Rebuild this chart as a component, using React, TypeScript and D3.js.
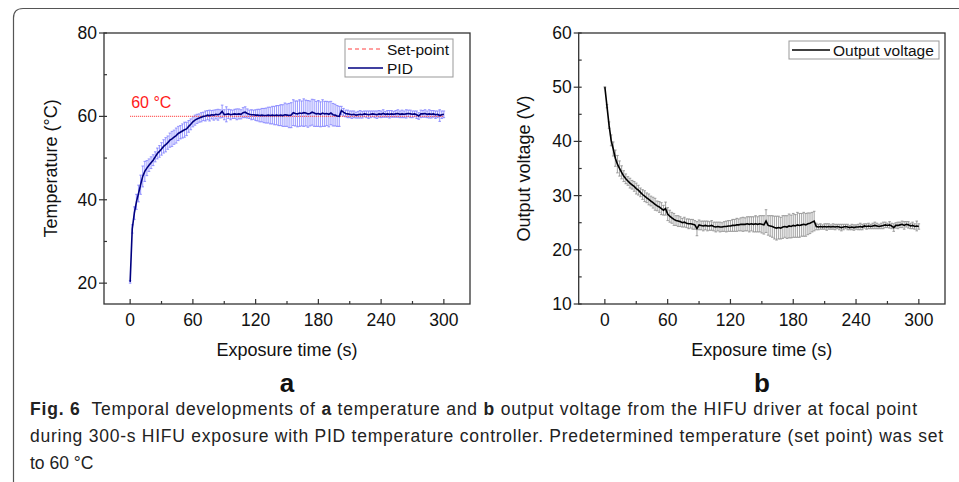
import React from "react";
import * as d3 from "d3";

// time step of 2 s, 0..300 s
const timeS = d3.range(0, 301, 2);

const tempMean = [
  20.3, 33.0, 36.8, 39.5, 41.5, 43.6, 45.6, 46.8, 47.6, 48.3,
  48.9, 49.5, 50.3, 51.1, 51.6, 52.2, 52.8, 53.2, 53.7, 54.3,
  54.6, 55.0, 55.4, 55.9, 56.2, 56.5, 56.8, 57.0, 57.6, 58.1,
  58.7, 59.1, 59.4, 59.6, 59.8, 60.0, 60.1, 60.3, 60.2, 60.4,
  60.3, 60.5, 60.4, 60.6, 61.2, 60.4, 60.5, 60.6, 60.4, 60.5,
  60.6, 60.5, 60.6, 60.5, 60.9, 61.0, 60.7, 60.5, 60.4, 60.4,
  60.3, 60.3, 60.2, 60.3, 60.2, 60.2, 60.3, 60.2, 60.3, 60.2,
  60.3, 60.2, 60.3, 60.2, 60.4, 60.3, 60.2, 60.3, 60.9, 60.7,
  60.6, 60.8, 60.7, 60.9, 60.8, 60.6, 60.7, 61.0, 60.8, 60.6,
  60.7, 60.5, 60.8, 60.6, 60.7, 60.5, 60.8, 60.4, 60.3, 60.1,
  60.0, 61.4, 61.0, 60.7, 60.6, 60.5, 60.4, 60.5, 60.3, 60.4,
  60.5, 60.4, 60.6, 60.5, 60.4, 60.5, 60.6, 60.5, 60.4, 60.6,
  60.5, 60.7, 60.5, 60.6, 60.5, 60.6, 60.5, 60.6, 60.7, 60.5,
  60.6, 60.5, 60.6, 60.7, 60.6, 60.5, 60.6, 60.4, 60.1, 60.6,
  60.6, 60.7, 60.5, 60.6, 60.5, 60.6, 60.4, 60.5, 60.2, 60.4,
  60.5,
];

const tempErr = [
  0.3, 1.0, 1.5, 1.8, 2.0, 2.3, 2.5, 2.4, 1.8, 1.5,
  1.4, 1.3, 1.2, 1.3, 1.4, 1.5, 1.6, 1.7, 1.6, 1.7,
  1.8, 1.7, 1.8, 1.7, 1.6, 1.7, 1.8, 1.6, 1.4, 1.3,
  1.2, 1.2, 1.1, 1.0, 1.1, 1.0, 1.2, 1.1, 1.3, 1.0,
  1.2, 1.1, 1.3, 1.0, 1.5, 1.2, 1.8, 1.1, 1.2, 1.0,
  1.1, 1.3, 1.2, 1.1, 1.2, 1.3, 1.1, 1.0, 1.2, 1.1,
  1.3, 1.4, 1.5, 1.6, 1.7, 1.8, 1.9, 2.0, 2.1, 2.2,
  2.3, 2.4, 2.5, 2.6, 2.8, 2.7, 2.9, 3.0, 3.1, 3.0,
  3.1, 3.2, 3.0, 3.3, 3.1, 3.2, 3.0, 3.1, 3.2, 3.0,
  3.1, 3.0, 3.2, 3.0, 2.9, 3.0, 2.8, 2.7, 2.6, 2.5,
  2.4, 1.0, 0.9, 0.8, 0.9, 0.8, 0.9, 0.8, 0.7, 0.8,
  0.9, 0.8, 0.7, 0.8, 0.9, 0.8, 0.7, 0.8, 0.9, 0.8,
  0.8, 0.9, 0.7, 0.8, 0.9, 0.8, 0.7, 0.8, 0.9, 0.8,
  0.9, 0.8, 1.0, 0.8, 0.9, 0.8, 0.7, 0.9, 0.8, 0.9,
  0.8, 0.9, 0.8, 1.0, 0.9, 0.8, 0.9, 0.8, 1.4, 0.9,
  0.8,
];

const voltMean = [
  50.0, 46.5, 43.0, 40.2, 38.6, 36.9, 35.8, 35.0, 34.3, 33.6,
  33.1, 32.7, 32.3, 32.0, 31.7, 31.3, 31.0, 30.6, 30.2, 29.9,
  29.6, 29.3, 29.0, 28.7, 28.4, 28.1, 27.9, 27.6, 27.3, 27.6,
  26.6, 26.2, 25.9, 25.6, 25.4, 25.3, 25.2, 25.0, 25.1, 24.9,
  24.8, 24.8, 24.7, 24.6, 23.9, 24.6, 24.5, 24.4, 24.5, 24.4,
  24.4, 24.5, 24.3, 24.2, 24.3, 24.2, 24.2, 24.3, 24.3, 24.4,
  24.4, 24.5, 24.5, 24.6, 24.6, 24.7, 24.7, 24.7, 24.8, 24.7,
  24.8, 24.7, 24.8, 24.7, 24.8, 24.7, 24.6, 25.3, 24.5, 24.4,
  24.3, 24.1, 24.0, 24.1, 24.0, 24.2, 24.3, 24.2, 24.4, 24.3,
  24.5, 24.4, 24.6, 24.5, 24.6, 24.7, 24.6, 24.8, 24.9, 25.1,
  25.3, 24.3, 24.2, 24.3, 24.2, 24.3, 24.2, 24.3, 24.2, 24.3,
  24.2, 24.3, 24.2, 24.1, 24.2, 24.3, 24.2, 24.1, 24.2, 24.1,
  24.2, 24.2, 24.3, 24.2, 24.4, 24.3, 24.4, 24.3, 24.4, 24.5,
  24.4, 24.3, 24.4, 24.5, 24.6, 24.5, 24.6, 24.4, 24.1, 24.5,
  24.5, 24.6, 24.7, 24.5, 24.7, 24.6, 24.4, 24.5, 24.3, 24.4,
  24.3,
];

const voltErr = [
  0.1, 0.3, 0.6, 1.0, 1.3, 1.5, 1.6, 1.4, 1.2, 1.0,
  0.9, 0.8, 0.9, 0.8, 0.9, 1.0, 0.9, 0.8, 0.9, 1.0,
  0.9, 1.0, 0.9, 1.0, 1.1, 0.9, 1.0, 1.1, 0.9, 1.2,
  1.2, 1.1, 1.0, 1.1, 0.9, 1.0, 0.9, 0.8, 0.9, 0.8,
  0.9, 0.8, 0.9, 0.8, 1.3, 0.9, 0.8, 0.9, 0.8, 0.9,
  0.8, 0.9, 0.8, 0.9, 0.8, 0.9, 0.8, 0.9, 1.0, 1.0,
  1.0, 1.1, 1.1, 1.2, 1.1, 1.2, 1.3, 1.2, 1.3, 1.4,
  1.3, 1.4, 1.5, 1.4, 1.5, 1.6, 1.7, 2.1, 1.8, 1.9,
  2.0, 2.1, 2.2, 2.1, 2.0, 2.1, 2.0, 2.1, 2.2, 2.1,
  2.2, 2.1, 2.3, 2.2, 2.1, 2.2, 2.1, 2.0, 1.9, 1.8,
  1.8, 0.6, 0.5, 0.5, 0.4, 0.5, 0.6, 0.5, 0.4, 0.5,
  0.5, 0.4, 0.5, 0.6, 0.5, 0.4, 0.5, 0.4, 0.5, 0.5,
  0.4, 0.5, 0.6, 0.5, 0.4, 0.5, 0.5, 0.4, 0.5, 0.6,
  0.5, 0.4, 0.5, 0.6, 0.5, 0.4, 0.6, 0.5, 0.7, 0.5,
  0.6, 0.5, 0.6, 0.7, 0.5, 0.6, 0.5, 0.6, 0.5, 0.9,
  0.5,
];

const setPoint = 60;
const xTicks = [0, 60, 120, 180, 240, 300];
const xMinor = [30, 90, 150, 210, 270];
const tempTicks = [20, 40, 60, 80];
const tempMinor = [30, 50, 70];
const voltTicks = [10, 20, 30, 40, 50, 60];
const voltMinor = [15, 25, 35, 45, 55];

const FONT = "'Liberation Sans', Arial, Helvetica, sans-serif";
const AXIS = "#333";

type PanelProps = {
  left: number;
  right: number;
  top: number;
  bottom: number;
  yDomain: [number, number];
  yTicks: number[];
  yMinor: number[];
  mean: number[];
  err: number[];
  lineColor: string;
  errColor: string;
  yTitle: string;
  yTitleX: number;
  panelLabel: string;
  children?: (x: d3.ScaleLinear<number, number>, y: d3.ScaleLinear<number, number>) => React.ReactNode;
  legend: React.ReactNode;
};

function Panel(p: PanelProps) {
  const x = d3.scaleLinear().domain([-25, 325]).range([p.left, p.right]);
  const y = d3.scaleLinear().domain(p.yDomain).range([p.bottom, p.top]);
  const line = d3
    .line<number>()
    .x((_, i) => x(timeS[i]))
    .y((d) => y(d));
  const cx = (p.left + p.right) / 2;
  return (
    <g>
      {/* error bars */}
      <g stroke={p.errColor} strokeWidth={1.1}>
        {p.mean.map((m, i) => {
          const xi = x(timeS[i]);
          const y1 = y(m - p.err[i]);
          const y2 = y(m + p.err[i]);
          return (
            <g key={i}>
              <line x1={xi} x2={xi} y1={y1} y2={y2} />
              <line x1={xi - 1.3} x2={xi + 1.3} y1={y1} y2={y1} />
              <line x1={xi - 1.3} x2={xi + 1.3} y1={y2} y2={y2} />
            </g>
          );
        })}
      </g>
      {p.children && p.children(x, y)}
      <path d={line(p.mean) || ""} fill="none" stroke={p.lineColor} strokeWidth={1.6} />
      {/* frame */}
      <rect
        x={p.left}
        y={p.top}
        width={p.right - p.left}
        height={p.bottom - p.top}
        fill="none"
        stroke={AXIS}
        strokeWidth={1.3}
      />
      {/* ticks */}
      <g stroke={AXIS} strokeWidth={1.2}>
        {xTicks.map((t) => (
          <line key={"xt" + t} x1={x(t)} x2={x(t)} y1={p.bottom} y2={p.bottom - 5} />
        ))}
        {xMinor.map((t) => (
          <line key={"xm" + t} x1={x(t)} x2={x(t)} y1={p.bottom} y2={p.bottom - 3} />
        ))}
        {p.yTicks.map((t) => (
          <line key={"yt" + t} x1={p.left - 5} x2={p.left + 3} y1={y(t)} y2={y(t)} />
        ))}
        {p.yMinor.map((t) => (
          <line key={"ym" + t} x1={p.left} x2={p.left + 3} y1={y(t)} y2={y(t)} />
        ))}
      </g>
      <g fontFamily={FONT} fontSize={17.5} fill="#111">
        {xTicks.map((t) => (
          <text key={"xl" + t} x={x(t)} y={p.bottom + 22} textAnchor="middle">
            {t}
          </text>
        ))}
        {p.yTicks.map((t) => (
          <text key={"yl" + t} x={p.left - 7} y={y(t) + 6} textAnchor="end">
            {t}
          </text>
        ))}
      </g>
      <text x={cx} y={356} textAnchor="middle" fontFamily={FONT} fontSize={18} fill="#111">
        Exposure time (s)
      </text>
      <text
        transform={`translate(${p.yTitleX},${(p.top + p.bottom) / 2}) rotate(-90)`}
        textAnchor="middle"
        fontFamily={FONT}
        fontSize={18}
        fill="#111"
      >
        {p.yTitle}
      </text>
      <text
        x={cx}
        y={392}
        textAnchor="middle"
        fontFamily={FONT}
        fontWeight="bold"
        fontSize={26}
        fill="#111"
      >
        {p.panelLabel}
      </text>
      {p.legend}
    </g>
  );
}

export default function App() {
  return (
    <svg
      width={959}
      height={482}
      viewBox="0 0 959 482"
      style={{ position: "absolute", left: 0, top: 0, background: "#fff" }}
    >
      <rect x={0} y={0} width={959} height={482} fill="#fff" />
      {/* outer frame */}
      <path d="M13.5,482 L13.5,18 Q13.5,8.5 23,8.5 L959,8.5" fill="none" stroke="#555" strokeWidth={1.2} />

      <Panel
        left={104}
        right={470}
        top={33}
        bottom={304}
        yDomain={[15, 80]}
        yTicks={tempTicks}
        yMinor={tempMinor}
        mean={tempMean}
        err={tempErr}
        lineColor="#000080"
        errColor="rgba(120,120,255,0.7)"
        yTitle="Temperature (°C)"
        yTitleX={57}
        panelLabel="a"
        legend={
          <g fontFamily={FONT} fontSize={15.5} fill="#111">
            <rect x={345} y={39} width={108} height={38} fill="#fff" stroke="#999" strokeWidth={1} />
            <line x1={348} x2={383} y1={49} y2={49} stroke="#ff4040" strokeWidth={1} strokeDasharray="4,3" />
            <text x={387} y={54.5}>Set-point</text>
            <line x1={348} x2={383} y1={68} y2={68} stroke="#000080" strokeWidth={1.6} />
            <text x={387} y={74}>PID</text>
          </g>
        }
      >
        {(x, y) => (
          <g>
            <line
              x1={x(0)}
              x2={x(300)}
              y1={y(setPoint)}
              y2={y(setPoint)}
              stroke="#ff5050"
              strokeWidth={1.1}
              strokeDasharray="1,1"
            />
            <text x={x(0) + 1} y={y(setPoint) - 8} fontFamily={FONT} fontSize={16} fill="#ff1a1a">
              60 °C
            </text>
          </g>
        )}
      </Panel>

      <Panel
        left={578.7}
        right={945}
        top={33}
        bottom={304}
        yDomain={[10, 60]}
        yTicks={voltTicks}
        yMinor={voltMinor}
        mean={voltMean}
        err={voltErr}
        lineColor="#000"
        errColor="rgba(140,140,140,0.75)"
        yTitle="Output voltage (V)"
        yTitleX={530}
        panelLabel="b"
        legend={
          <g fontFamily={FONT} fontSize={15.5} fill="#111">
            <rect x={789} y={41} width={150} height={18} fill="#fff" stroke="#999" strokeWidth={1} />
            <line x1={792} x2={830} y1={50} y2={50} stroke="#000" strokeWidth={1.6} />
            <text x={833} y={55.5}>Output voltage</text>
          </g>
        }
      />

      {/* caption */}
      <g fontFamily={FONT} fontSize={17.5} fill="#222">
        <text x={30} y={415} textLength={887} lengthAdjust="spacing" xmlSpace="preserve">
          <tspan fontWeight="bold">Fig. 6</tspan>
          {"  Temporal developments of "}
          <tspan fontWeight="bold">a</tspan>
          {" temperature and "}
          <tspan fontWeight="bold">b</tspan>
          {" output voltage from the HIFU driver at focal point"}
        </text>
        <text x={30} y={442} textLength={913} lengthAdjust="spacing">
          during 300-s HIFU exposure with PID temperature controller. Predetermined temperature (set point) was set
        </text>
        <text x={30} y={469}>to 60 °C</text>
      </g>
    </svg>
  );
}
